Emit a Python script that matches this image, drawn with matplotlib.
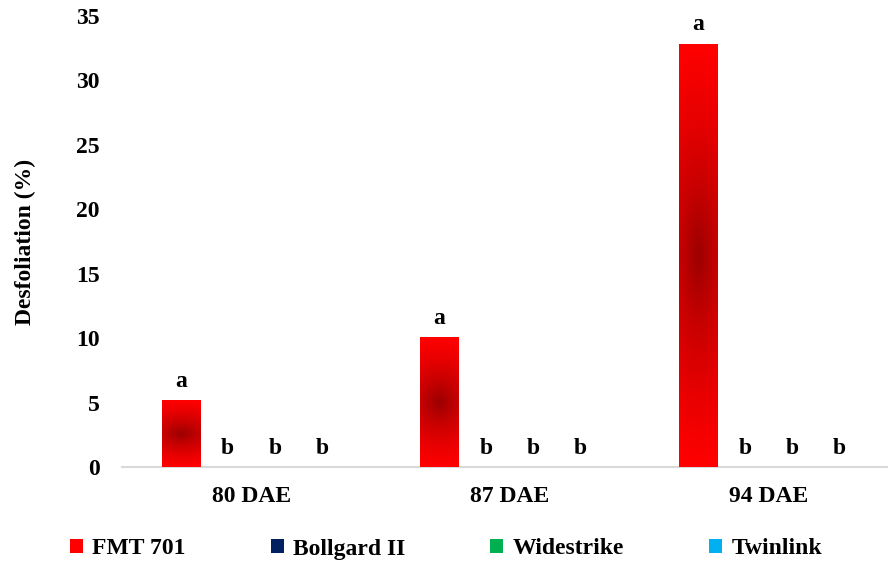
import numpy as np
import matplotlib
matplotlib.use("Agg")
import matplotlib.pyplot as plt
from matplotlib.patches import Patch
from matplotlib.colors import LinearSegmentedColormap

categories = ["80 DAE", "87 DAE", "94 DAE"]
series_names = ["FMT 701", "Bollgard II", "Widestrike", "Twinlink"]
values = {
    "FMT 701": [5.15, 10.05, 32.8],
    "Bollgard II": [0, 0, 0],
    "Widestrike": [0, 0, 0],
    "Twinlink": [0, 0, 0],
}
letters = {
    "FMT 701": ["a", "a", "a"],
    "Bollgard II": ["b", "b", "b"],
    "Widestrike": ["b", "b", "b"],
    "Twinlink": ["b", "b", "b"],
}
colors = ["#FF0000", "#002060", "#00B050", "#00B0F0"]
yticks = [0, 5, 10, 15, 20, 25, 30, 35]

plt.rcParams['font.family'] = ['Liberation Serif', 'DejaVu Serif']
plt.rcParams['font.weight'] = 'bold'
FS = 17

fig = plt.figure(figsize=(8.88, 5.65), dpi=100)
ax = fig.add_axes([122/888, 98/565, 776/888, 451/565])

x = np.arange(len(categories))
slot = 0.182
bw = 0.147
offsets = (np.arange(len(series_names)) - 1.5) * slot

cmap = LinearSegmentedColormap.from_list("redgrad", ["#9C0000", "#C80000", "#E80000", "#FF0000"])
ny, nx = 300, 40
yy, xx = np.mgrid[0:ny, 0:nx]
dxn = ((xx + 0.5) / nx - 0.5) / 0.5
dyn = ((yy + 0.5) / ny - 0.5) / 0.5
r = np.sqrt(0.12 * dxn ** 2 + dyn ** 2)
grad = np.clip(r, 0, 1)

for i, name in enumerate(series_names):
    bars = ax.bar(x + offsets[i], values[name], width=bw, color=colors[i], zorder=2)
    for j, b in enumerate(bars):
        h = b.get_height()
        if name == "FMT 701" and h > 0:
            ax.imshow(grad, cmap=cmap, vmin=0, vmax=1, aspect='auto',
                      extent=[b.get_x(), b.get_x() + b.get_width(), 0, h],
                      zorder=3, interpolation='bilinear')
        off = 10 if h > 0 else 9.5
        ax.annotate(letters[name][j], (b.get_x() + b.get_width() / 2, h),
                    xytext=(0, off), textcoords='offset points',
                    ha='center', va='baseline', fontsize=FS, fontweight='bold')

ax.set_xlim(-0.5, 2.5)
ax.set_ylim(0, 35)
ax.set_yticks(yticks)
ax.set_yticklabels([str(t) for t in yticks], fontsize=FS, fontweight='bold')
ax.set_xticks(x)
ax.set_xticklabels(categories, fontsize=FS, fontweight='bold')
ax.tick_params(axis='both', length=0)
ax.tick_params(axis='y', pad=16)
ax.tick_params(axis='x', pad=14)
for s in ['top', 'right', 'left']:
    ax.spines[s].set_visible(False)
ax.spines['bottom'].set_color('#D9D9D9')
ax.spines['bottom'].set_linewidth(1.5)
ax.set_ylabel("Desfoliation (%)", fontsize=FS, fontweight='bold')
ax.yaxis.set_label_coords(-86/776, 0.5)

handles = [Patch(facecolor=c, edgecolor='none') for c in colors]
fig.legend(handles, series_names, loc='center', bbox_to_anchor=(446/888, 1 - 549/565),
           ncol=4, frameon=False, prop={'weight': 'bold', 'size': FS},
           handlelength=0.55, handleheight=0.55, handletextpad=0.4, columnspacing=3.6)

fig.savefig("out.png", dpi=100)
